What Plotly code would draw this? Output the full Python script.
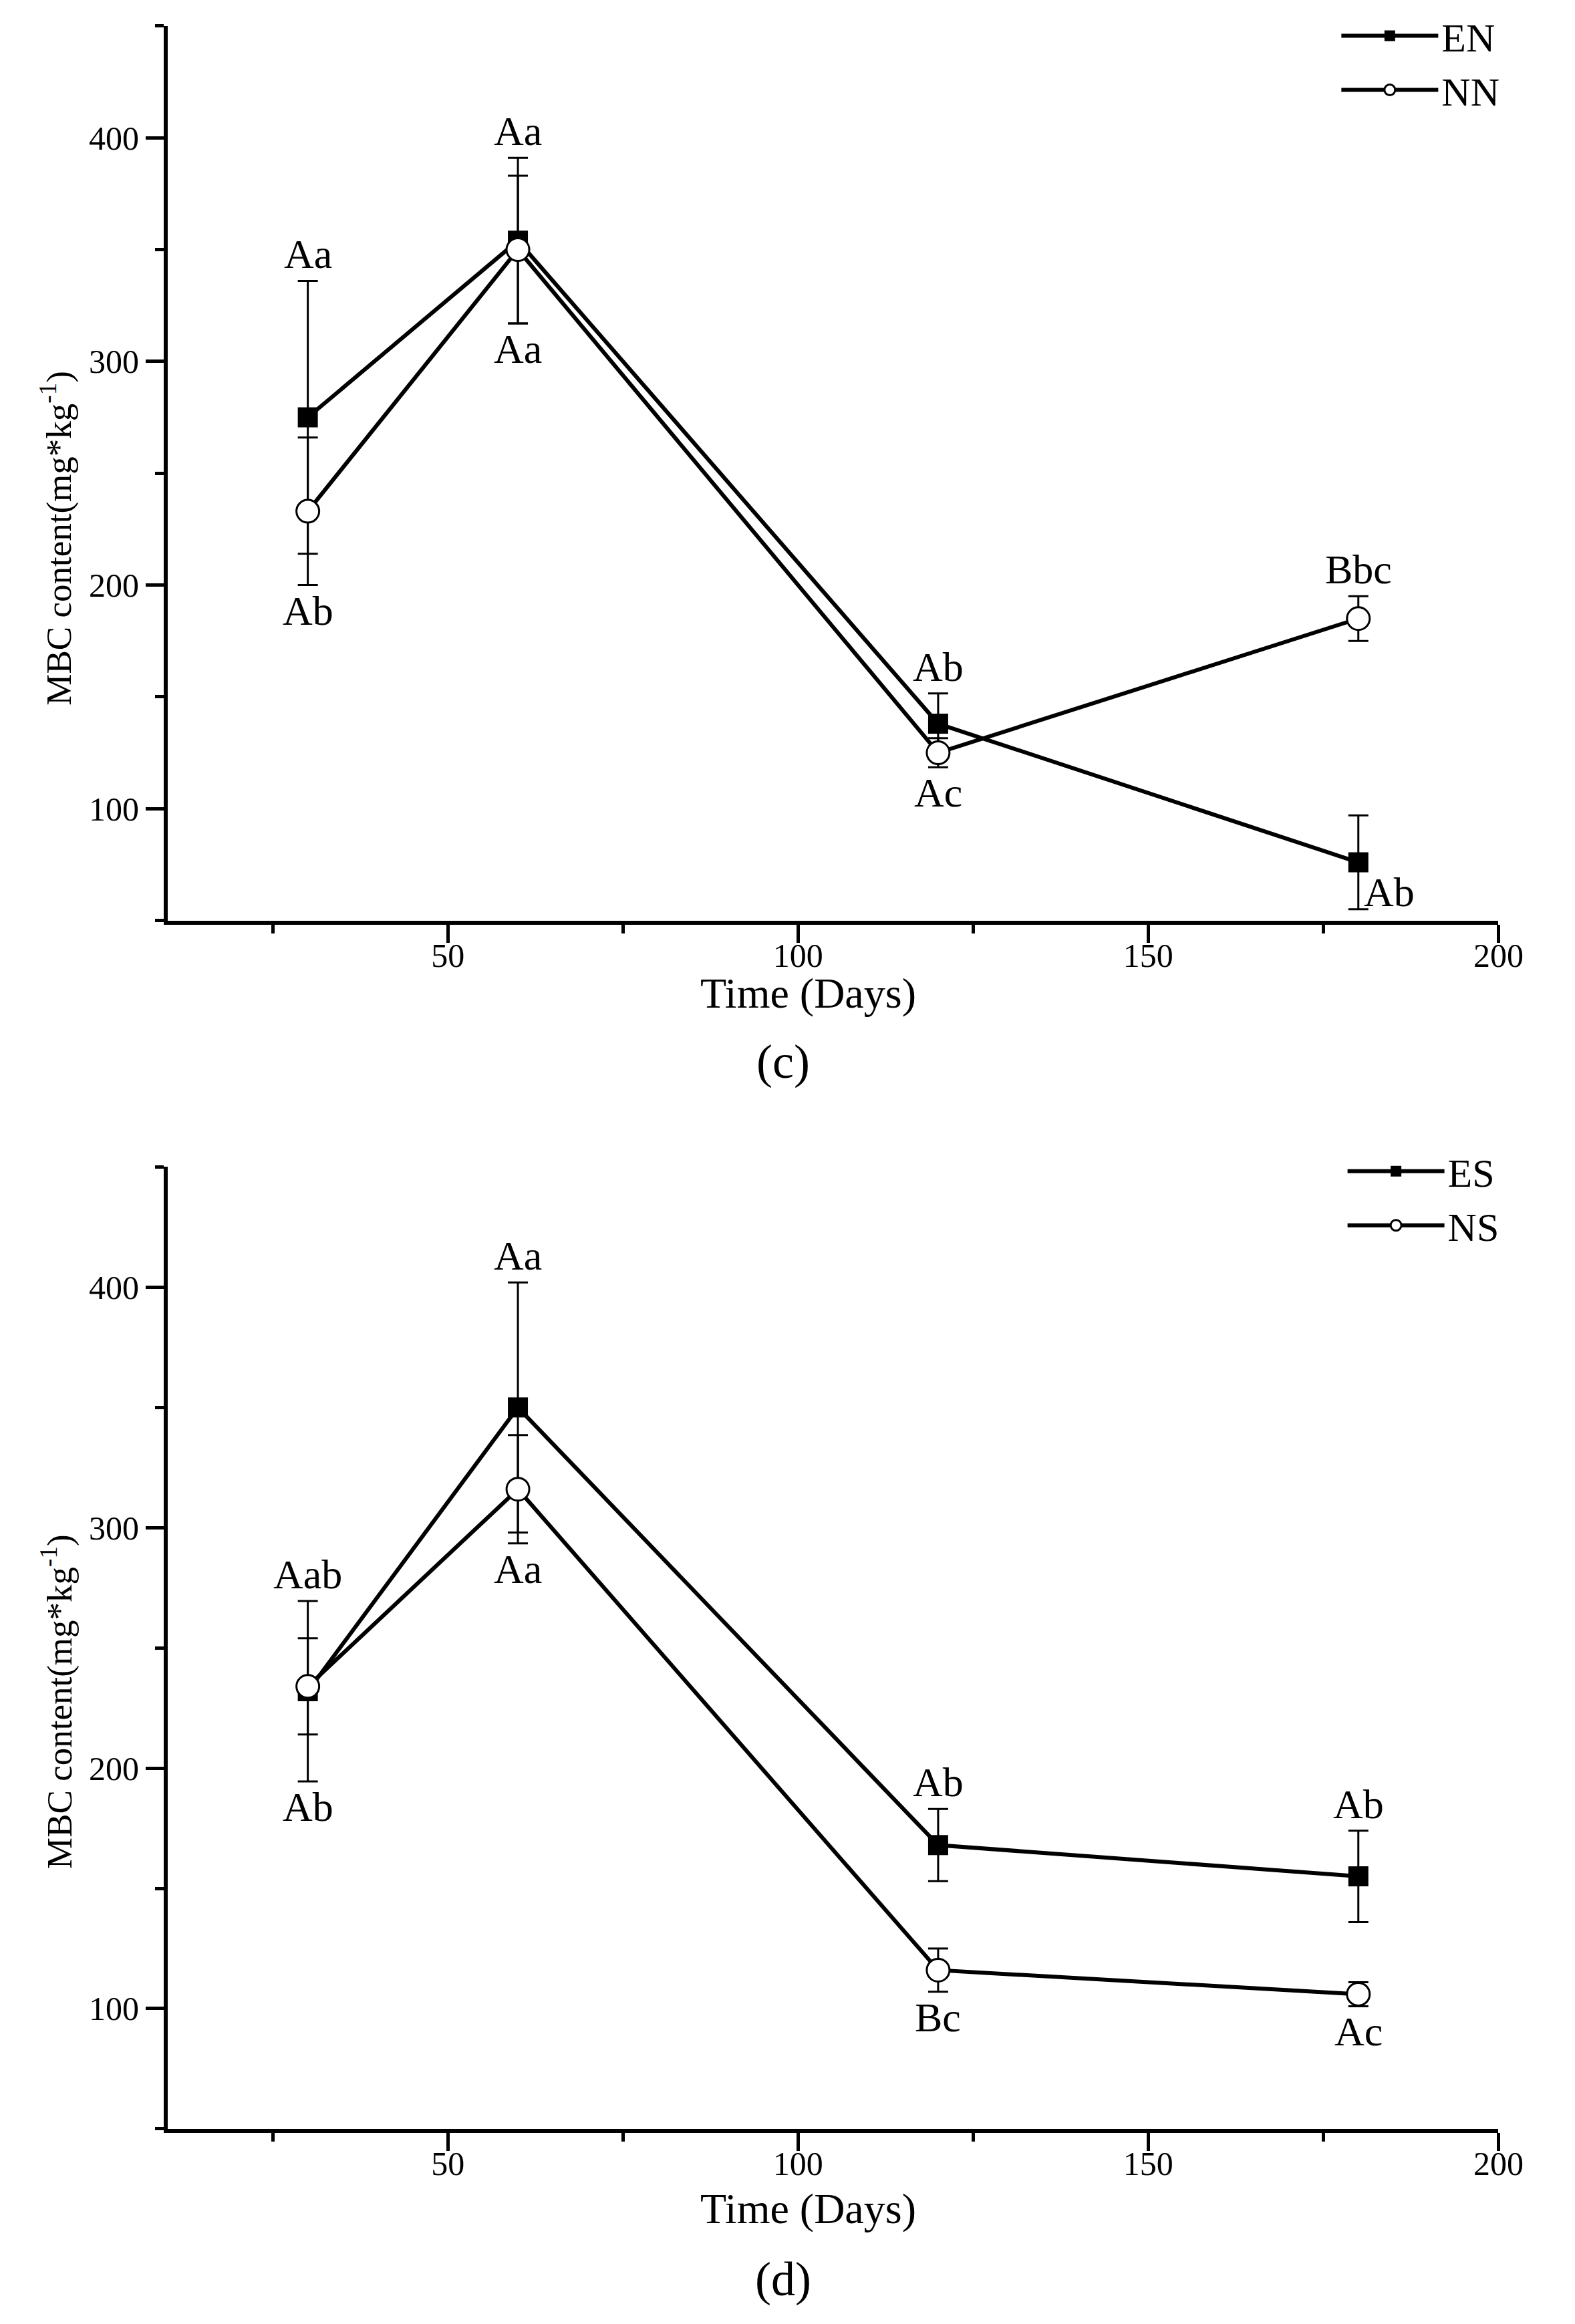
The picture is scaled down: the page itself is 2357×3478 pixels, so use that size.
import plotly.graph_objects as go

# ---- data ----
days = [30, 60, 120, 180]

# panel (c)
en = [275, 354, 138, 76]
en_err = [61, 37, 13.5, 21]
nn = [233, 350, 125, 185]
nn_err = [33, 33, 6.5, 10]
c_top_labels = ["Aa", "Aa", "Ab", "Bbc"]
c_bottom_labels = ["Ab", "Aa", "Ac", "Ab"]

# panel (d)
es = [232, 350, 168, 155]
es_err = [37.5, 52, 15, 19]
ns = [234, 316, 116, 106]
ns_err = [20, 22.5, 9, 5]
d_top_labels = ["Aab", "Aa", "Ab", "Ab"]
d_bottom_labels = ["Ab", "Aa", "Bc", "Ac"]

x_ticks = [50, 100, 150, 200]
y_ticks = [100, 200, 300, 400]

FONT = "Liberation Serif"
W, H = 2357, 3478

fig = go.Figure()


def add_series(name, y, err, filled, xaxis, yaxis, legend):
    fig.add_trace(go.Scatter(
        x=days, y=y, name=name, mode="lines+markers",
        xaxis=xaxis, yaxis=yaxis, legend=legend,
        line=dict(color="black", width=6),
        marker=dict(symbol="square" if filled else "circle",
                    size=30 if filled else 34,
                    color="black" if filled else "white",
                    line=dict(color="black", width=0 if filled else 3)),
        error_y=dict(type="data", array=err, visible=True,
                     color="black", thickness=3, width=15),
    ))


add_series("EN", en, en_err, True, "x", "y", "legend")
add_series("NN", nn, nn_err, False, "x", "y", "legend")
add_series("ES", es, es_err, True, "x2", "y2", "legend2")
add_series("NS", ns, ns_err, False, "x2", "y2", "legend2")

xdom = [247 / W, 2271 / W]
axis_common = dict(
    showline=True, linewidth=6, linecolor="black", mirror=False,
    ticks="outside", ticklen=27, tickwidth=5, tickcolor="black",
    showgrid=False, zeroline=False,
    tickfont=dict(family=FONT, size=50, color="black"),
)
xa = dict(axis_common, range=[10, 200], tickvals=x_ticks, ticklabelstandoff=-24,
          minor=dict(ticks="outside", ticklen=13, tickwidth=5,
                     tickcolor="black", dtick=25, tick0=0))
ya = dict(axis_common, range=[50, 450], tickvals=y_ticks,
          minor=dict(ticks="outside", ticklen=13, tickwidth=5,
                     tickcolor="black", dtick=50, tick0=0))

legend_style = dict(xanchor="left", yanchor="top", itemwidth=145,
                    font=dict(family=FONT, size=60, color="black"),
                    bgcolor="rgba(0,0,0,0)", tracegroupgap=0)

fig.update_layout(
    width=W, height=H, autosize=False,
    margin=dict(l=0, r=0, t=0, b=0),
    paper_bgcolor="white", plot_bgcolor="white",
    font=dict(family=FONT, color="black"),
    xaxis=dict(xa, domain=xdom, anchor="y"),
    yaxis=dict(ya, domain=[0.6064, 0.9914], anchor="x"),
    xaxis2=dict(xa, domain=xdom, anchor="y2"),
    yaxis2=dict(ya, domain=[0.0863, 0.5003], anchor="x2"),
    legend=dict(legend_style, x=0.860, y=1.0003),
    legend2=dict(legend_style, x=0.864, y=0.5116),
)

annots = []
LABEL_FONT = dict(family=FONT, size=62, color="black")


def add_labels(series, tops, bottoms, xref, yref, special=None):
    for i, d in enumerate(days):
        hi = max(s[i] + e[i] for s, e in series)
        lo = min(s[i] - e[i] for s, e in series)
        annots.append(dict(x=d, y=hi, xref=xref, yref=yref, text=tops[i],
                           showarrow=False, yanchor="bottom", yshift=4,
                           font=LABEL_FONT))
        if special is not None and i == special:
            annots.append(dict(x=d, y=lo, xref=xref, yref=yref, text=bottoms[i],
                               showarrow=False, xanchor="left", yanchor="middle",
                               xshift=6, yshift=26, font=LABEL_FONT))
        else:
            annots.append(dict(x=d, y=lo, xref=xref, yref=yref, text=bottoms[i],
                               showarrow=False, yanchor="top", yshift=-2,
                               font=LABEL_FONT))


add_labels([(en, en_err), (nn, nn_err)], c_top_labels, c_bottom_labels, "x", "y", special=3)
add_labels([(es, es_err), (ns, ns_err)], d_top_labels, d_bottom_labels, "x2", "y2")

ytitle = "MBC content(mg*kg<sup>-1</sup>)"
for yc in (0.7711, 0.2703):
    annots.append(dict(x=78 / W, y=yc, xref="paper", yref="paper", text=ytitle,
                       textangle=-90, showarrow=False,
                       xanchor="center", yanchor="middle",
                       font=dict(family=FONT, size=53, color="black")))
for yc in (0.5752, 0.0520):
    annots.append(dict(x=1221 / W, y=yc, xref="paper", yref="paper", text="Time (Days)",
                       showarrow=False, xanchor="center", yanchor="middle",
                       font=dict(family=FONT, size=64, color="black")))
for yc, cap in ((0.5457, "(c)"), (0.0216, "(d)")):
    annots.append(dict(x=1183 / W, y=yc, xref="paper", yref="paper", text=cap,
                       showarrow=False, xanchor="center", yanchor="middle",
                       font=dict(family=FONT, size=72, color="black")))

fig.update_layout(annotations=annots)
fig.write_html("out.html")
